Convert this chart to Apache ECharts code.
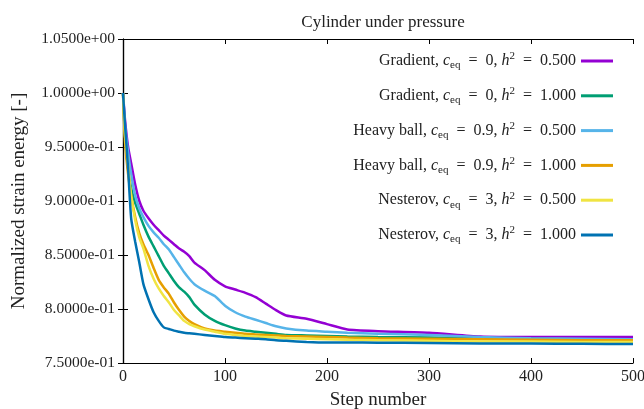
<!DOCTYPE html>
<html>
<head>
<meta charset="utf-8">
<script src="https://cdn.jsdelivr.net/npm/echarts@6/dist/echarts.min.js"></script>
<style>
  html, body { margin: 0; padding: 0; background: #fff; }
  #chart { width: 644px; height: 409px; }
</style>
</head>
<body>
<div id="chart"></div>
<script>
// step numbers shared by all runs
var steps = [0, 2, 5, 8, 12, 16, 20, 25, 30, 35, 40, 45, 50, 55, 60, 65, 70, 80, 90, 100,
  110, 120, 130, 140, 150, 160, 180, 200, 220, 250, 300, 350, 400, 450, 500];

// normalized strain energy, one list per run
var gradH05 = [1.0, 0.975, 0.95, 0.935, 0.915, 0.90, 0.891, 0.884, 0.878, 0.873, 0.868, 0.864, 0.860, 0.856, 0.853, 0.849, 0.843, 0.836, 0.827, 0.821,
  0.818, 0.815, 0.811, 0.805, 0.799, 0.794, 0.791, 0.786, 0.781, 0.7795, 0.778, 0.7745, 0.774, 0.774, 0.774];
var gradH10 = [1.0, 0.96, 0.93, 0.912, 0.898, 0.888, 0.878, 0.867, 0.858, 0.849, 0.840, 0.833, 0.826, 0.820, 0.816, 0.811, 0.804, 0.795, 0.789, 0.785,
  0.782, 0.780, 0.779, 0.778, 0.777, 0.776, 0.7755, 0.775, 0.7745, 0.774, 0.7735, 0.773, 0.7725, 0.772, 0.7715];
var heavyH05 = [1.0, 0.97, 0.945, 0.925, 0.905, 0.893, 0.885, 0.877, 0.871, 0.866, 0.860, 0.855, 0.848, 0.841, 0.834, 0.828, 0.823, 0.817, 0.812, 0.803,
  0.797, 0.793, 0.790, 0.787, 0.784, 0.782, 0.780, 0.779, 0.778, 0.777, 0.776, 0.774, 0.773, 0.7725, 0.772];
var heavyH10 = [1.0, 0.955, 0.925, 0.905, 0.885, 0.870, 0.860, 0.850, 0.838, 0.827, 0.820, 0.814, 0.806, 0.799, 0.793, 0.789, 0.786, 0.782, 0.780, 0.779,
  0.778, 0.777, 0.7765, 0.776, 0.7755, 0.775, 0.7745, 0.774, 0.7735, 0.773, 0.7725, 0.772, 0.7715, 0.771, 0.771];
var nestH05 = [1.0, 0.96, 0.932, 0.905, 0.882, 0.866, 0.856, 0.840, 0.828, 0.819, 0.812, 0.806, 0.799, 0.794, 0.789, 0.786, 0.784, 0.781, 0.779, 0.777,
  0.776, 0.775, 0.7745, 0.774, 0.7735, 0.773, 0.7725, 0.772, 0.7715, 0.771, 0.7705, 0.770, 0.770, 0.7695, 0.7695];
var nestH10 = [1.0, 0.97, 0.93, 0.884, 0.862, 0.843, 0.823, 0.809, 0.797, 0.789, 0.783, 0.7815, 0.780, 0.779, 0.778, 0.7775, 0.777, 0.776, 0.775, 0.774,
  0.7735, 0.773, 0.7725, 0.772, 0.771, 0.7705, 0.7695, 0.769, 0.769, 0.7688, 0.7685, 0.768, 0.768, 0.7678, 0.7675];

// legend pieces
var methods = ['Gradient', 'Gradient', 'Heavy ball', 'Heavy ball', 'Nesterov', 'Nesterov'];
var ceqLabels = ['0', '0', '0.9', '0.9', '3', '3'];
var h2Labels = ['0.500', '1.000', '0.500', '1.000', '0.500', '1.000'];
var colors = ['#9400d3', '#009e73', '#56b4e9', '#e69f00', '#f0e442', '#0072b2'];
var runs = [gradH05, gradH10, heavyH05, heavyH10, nestH05, nestH10];

var serif = 'Liberation Serif';
var names = methods.map(function (m, i) {
  return m + ', ceq = ' + ceqLabels[i] + ', h2 = ' + h2Labels[i];
});

function expLabel(v) {
  var s = v.toExponential(4);
  return s.replace(/e([+-])(\d)$/, 'e$10$2');
}

var chart = echarts.init(document.getElementById('chart'));

var series = runs.map(function (vals, i) {
  return {
    name: names[i],
    type: 'line',
    showSymbol: false,
    symbol: 'none',
    smooth: 0.2,
    lineStyle: { width: 2.5, color: colors[i] },
    itemStyle: { color: colors[i] },
    data: steps.map(function (s, k) { return [s, vals[k]]; })
  };
});

var tickStyle = { inside: true, length: 5, lineStyle: { color: '#000', width: 1 } };
var lineStyle = { lineStyle: { color: '#000', width: 1.2 } };

var option = {
  animation: false,
  backgroundColor: '#fff',
  title: {
    text: 'Cylinder under pressure',
    left: 378,
    textAlign: 'center',
    top: 9,
    textStyle: { fontFamily: serif, fontSize: 17, fontWeight: 'normal', color: '#222' }
  },
  legend: {
    orient: 'vertical',
    right: 26,
    top: 46,
    align: 'right',
    itemWidth: 32,
    itemHeight: 3,
    itemGap: 14.8,
    icon: 'rect',
    data: names,
    formatter: function (name) {
      var i = names.indexOf(name);
      return '{t|' + methods[i] + ', }{i|c}{sub|eq}{t|  =  ' + ceqLabels[i] + ', }{i|h}{sup|2}{t|  =  ' + h2Labels[i] + '}';
    },
    textStyle: {
      rich: {
        t: { fontFamily: serif, fontSize: 16, color: '#222', lineHeight: 20 },
        i: { fontFamily: serif, fontSize: 16, fontStyle: 'italic', color: '#222', lineHeight: 20 },
        sub: { fontFamily: serif, fontSize: 11, color: '#222', lineHeight: 10, verticalAlign: 'bottom' },
        sup: { fontFamily: serif, fontSize: 11, color: '#222', lineHeight: 10, verticalAlign: 'top' }
      }
    }
  },
  grid: { left: 123, right: 11, top: 39, bottom: 46, containLabel: false, outerBoundsMode: 'none' },
  xAxis: [{
    type: 'value',
    min: 0,
    max: 500,
    interval: 100,
    position: 'bottom',
    name: 'Step number',
    nameLocation: 'middle',
    nameGap: 28,
    nameTextStyle: { fontFamily: serif, fontSize: 19, color: '#222' },
    axisLine: lineStyle,
    axisTick: tickStyle,
    axisLabel: { fontFamily: serif, fontSize: 16, color: '#222', margin: 6 },
    splitLine: { show: false }
  }, {
    type: 'value',
    min: 0,
    max: 500,
    interval: 100,
    position: 'top',
    axisLine: lineStyle,
    axisTick: tickStyle,
    axisLabel: { show: false },
    splitLine: { show: false }
  }],
  yAxis: [{
    type: 'value',
    min: 0.75,
    max: 1.05,
    interval: 0.05,
    position: 'left',
    name: 'Normalized strain energy [-]',
    nameLocation: 'middle',
    nameGap: 94,
    nameTextStyle: { fontFamily: serif, fontSize: 19, color: '#222' },
    axisLine: lineStyle,
    axisTick: tickStyle,
    axisLabel: { fontFamily: serif, fontSize: 15.5, color: '#222', margin: 8, formatter: expLabel },
    splitLine: { show: false }
  }, {
    type: 'value',
    min: 0.75,
    max: 1.05,
    interval: 0.05,
    position: 'right',
    axisLine: lineStyle,
    axisTick: tickStyle,
    axisLabel: { show: false },
    splitLine: { show: false }
  }],
  series: series
};

chart.setOption(option);
</script>
</body>
</html>
